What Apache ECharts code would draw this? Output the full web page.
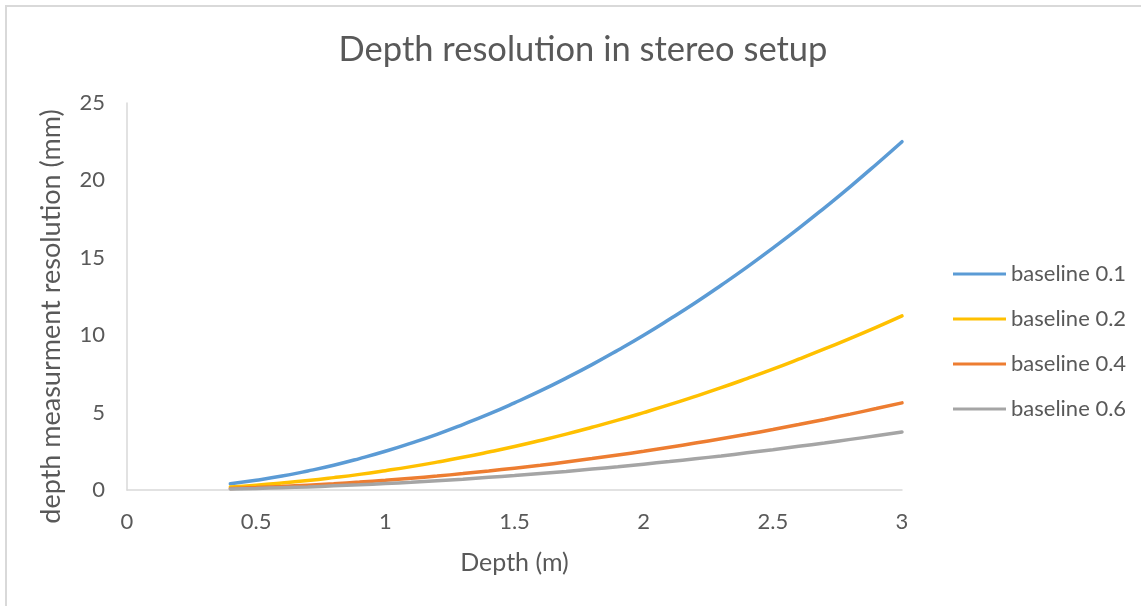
<!DOCTYPE html>
<html><head><meta charset="utf-8">
<script src="https://cdn.jsdelivr.net/npm/echarts@6/dist/echarts.min.js"></script>
<style>
html,body{margin:0;padding:0;background:#fff;}
#frame{position:absolute;left:5px;top:5px;width:1136px;height:601px;border-left:2px solid #d9d9d9;border-top:2px solid #d9d9d9;box-sizing:border-box;}
#chart{position:absolute;left:0;top:0;width:1141px;height:606px;}
</style></head>
<body>
<div id="frame"></div>
<div id="chart"></div>
<script>
const depth = [0.4,0.5,0.6,0.7,0.8,0.9,1.0,1.1,1.2,1.3,1.4,1.5,1.6,1.7,1.8,1.9,2.0,2.1,2.2,2.3,2.4,2.5,2.6,2.7,2.8,2.9,3.0];
const baseline01 = [0.40,0.63,0.90,1.23,1.60,2.03,2.50,3.03,3.60,4.23,4.90,5.63,6.40,7.23,8.10,9.03,10.00,11.03,12.10,13.23,14.40,15.63,16.90,18.23,19.60,21.03,22.50];
const baseline02 = [0.20,0.31,0.45,0.61,0.80,1.01,1.25,1.51,1.80,2.11,2.45,2.81,3.20,3.61,4.05,4.51,5.00,5.51,6.05,6.61,7.20,7.81,8.45,9.11,9.80,10.51,11.25];
const baseline04 = [0.10,0.16,0.23,0.31,0.40,0.51,0.63,0.76,0.90,1.06,1.23,1.41,1.60,1.81,2.03,2.26,2.50,2.76,3.03,3.31,3.60,3.91,4.23,4.56,4.90,5.26,5.63];
const baseline06 = [0.07,0.10,0.15,0.20,0.27,0.34,0.42,0.50,0.60,0.70,0.82,0.94,1.07,1.20,1.35,1.50,1.67,1.84,2.02,2.20,2.40,2.60,2.82,3.04,3.27,3.50,3.75];
const seriesNames = ['baseline 0.1','baseline 0.2','baseline 0.4','baseline 0.6'];
const seriesColors = ['#5B9BD5','#FFC000','#ED7D31','#A5A5A5'];
const seriesData = [baseline01, baseline02, baseline04, baseline06];

const FONT = 'Lato, "Open Sans", sans-serif';
const chart = echarts.init(document.getElementById('chart'), null, {renderer:'canvas'});
chart.setOption({
  animation:false,
  backgroundColor:'transparent',
  title:{text:'Depth resolution in stereo setup', left:578, top:27, textAlign:'center',
    textStyle:{fontFamily:FONT, fontSize:34.5, fontWeight:'normal', color:'#595959'}},
  grid:{left:127, right:239, top:103, bottom:116, containLabel:false},
  legend:{orient:'vertical', left:948, top:257, itemGap:21, itemWidth:53, itemHeight:3, icon:'rect',
    textStyle:{fontFamily:FONT, fontSize:22, color:'#595959', lineHeight:24},
    data:seriesNames},
  xAxis:{type:'value', min:0, max:3, interval:0.5, name:'Depth (m)', nameLocation:'middle', nameGap:60,
    nameTextStyle:{fontFamily:FONT, fontSize:25, color:'#595959'},
    axisLine:{lineStyle:{color:'#d9d9d9', width:1.5}}, axisTick:{show:false}, splitLine:{show:false},
    axisLabel:{fontFamily:FONT, fontSize:22, color:'#595959', margin:21}},
  yAxis:{type:'value', min:0, max:25, interval:5, name:'depth measurment resolution (mm)', nameLocation:'middle', nameGap:62,
    nameTextStyle:{fontFamily:FONT, fontSize:27, color:'#595959', padding:[0,0,0,-40]},
    axisLine:{show:true, lineStyle:{color:'#d9d9d9', width:1.5}}, axisTick:{show:false}, splitLine:{show:false},
    axisLabel:{fontFamily:FONT, fontSize:22, color:'#595959', margin:22}},
  series: seriesNames.map((n,i)=>({
    name:n, type:'line', smooth:true, showSymbol:false, symbol:'none',
    lineStyle:{width:3.5, color:seriesColors[i], cap:'round'}, itemStyle:{color:seriesColors[i]},
    data: depth.map((d,j)=>[d, seriesData[i][j]])
  }))
});
</script>
</body></html>
